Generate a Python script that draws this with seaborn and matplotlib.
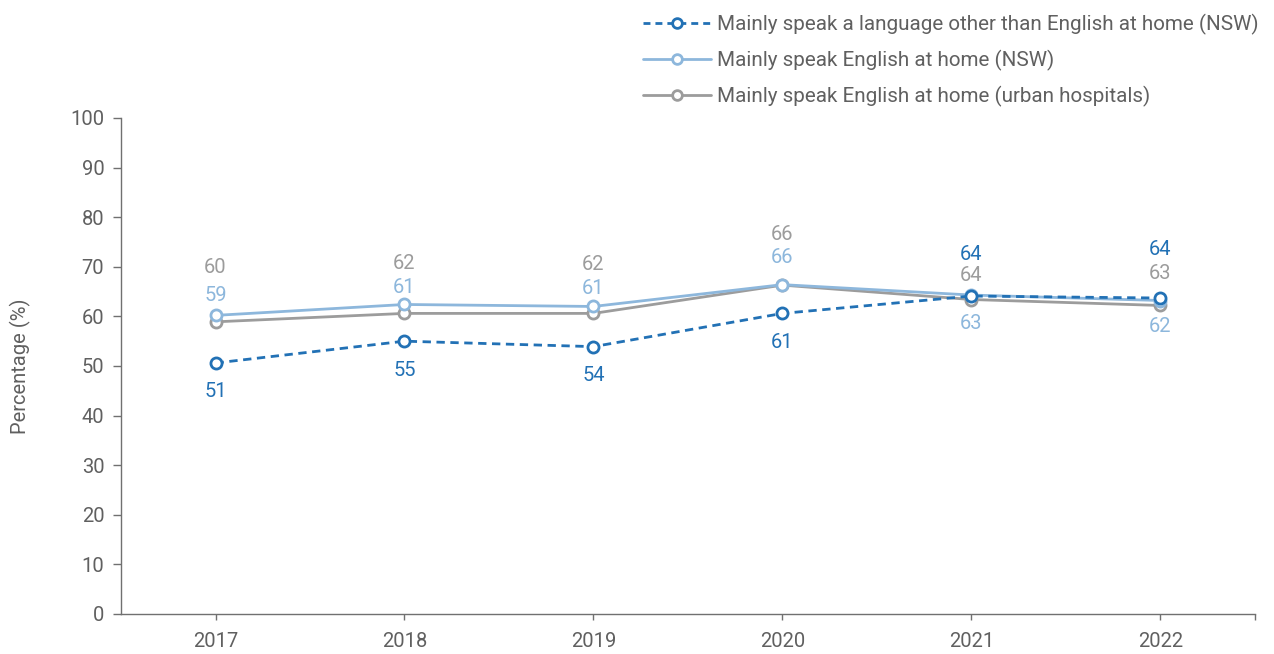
import matplotlib
matplotlib.use("Agg")
import matplotlib.pyplot as plt
import seaborn as sns
import pandas as pd
from matplotlib.lines import Line2D

sns.set_theme(style="white")
plt.rcParams["font.family"] = ["Roboto", "DejaVu Sans"]
plt.rcParams["font.weight"] = "normal"

years = ["2017", "2018", "2019", "2020", "2021", "2022"]
other_lang_nsw = [50.6, 55.0, 53.9, 60.6, 64.1, 63.7]
english_nsw = [60.2, 62.4, 62.0, 66.4, 64.3, 63.2]
english_urban = [58.9, 60.6, 60.6, 66.3, 63.4, 62.2]

series_names = [
    "Mainly speak a language other than English at home (NSW)",
    "Mainly speak English at home (NSW)",
    "Mainly speak English at home (urban hospitals)",
]

DARK = "#2271b5"
LIGHT = "#8db7dc"
GREY = "#9c9c9c"
TEXT = "#606060"
FS = 14.5

df = pd.DataFrame({
    "year": years * 3,
    "value": other_lang_nsw + english_nsw + english_urban,
    "series": [series_names[0]] * 6 + [series_names[1]] * 6 + [series_names[2]] * 6,
})

fig = plt.figure(figsize=(12.74, 6.54), dpi=100)
ax = fig.add_axes([0.095, 0.0612, 0.89, 0.7584])

palette = {series_names[0]: DARK, series_names[1]: LIGHT, series_names[2]: GREY}
draw_order = [series_names[2], series_names[1], series_names[0]]
styles = {series_names[0]: (0, (3, 2)), series_names[1]: "-", series_names[2]: "-"}
for name in draw_order:
    sub = df[df["series"] == name]
    sns.lineplot(data=sub, x="year", y="value", ax=ax, color=palette[name],
                 linewidth=2.0, linestyle=styles[name], marker="o", markersize=8,
                 markerfacecolor="white", markeredgecolor=palette[name],
                 markeredgewidth=2.0, legend=False, sort=False)

# value-label offsets in pixels (negative = above the point)
off_english_nsw = [-48, -41, -42, -50, -20, -27]
off_english_urban = [-26, -26, -25, -28, 24, 21]
off_other = [28, 29, 29, 29, -42, -49]

def put_labels(vals, offs, color):
    for i, (v, o) in enumerate(zip(vals, offs)):
        ax.annotate(f"{v:.0f}", (i, v), xytext=(0, -o * 0.72),
                    textcoords="offset points", ha="center", va="center",
                    fontsize=FS, color=color)

put_labels(english_nsw, off_english_nsw, GREY)
put_labels(english_urban, off_english_urban, LIGHT)
put_labels(other_lang_nsw, off_other, DARK)

ax.set_xlim(-0.5, 5.5)
ax.set_ylim(0, 100)
ax.set_yticks(range(0, 101, 10))
ax.set_xlabel("")
ax.set_ylabel("Percentage (%)", fontsize=FS, color=TEXT, labelpad=28)
ax.set_xticks(range(len(years)))
ax.set_xticklabels(years)
ax.set_xticks([5.5], minor=True)

for s in ["top", "right"]:
    ax.spines[s].set_visible(False)
for s in ["left", "bottom"]:
    ax.spines[s].set_color("#707070")
    ax.spines[s].set_linewidth(1.0)
ax.tick_params(axis="y", which="major", left=True, length=6, width=1, color="#707070",
               labelsize=FS, labelcolor=TEXT, pad=6)
ax.tick_params(axis="x", which="both", bottom=True, length=4, width=1, color="#707070",
               labelsize=FS, labelcolor=TEXT, pad=9)
ax.grid(False)

handles = [
    Line2D([0], [0], color=DARK, lw=2, ls=(0, (2.5, 1.8)), marker="o", markersize=7,
           markerfacecolor="white", markeredgecolor=DARK, markeredgewidth=2),
    Line2D([0], [0], color=LIGHT, lw=2, marker="o", markersize=7,
           markerfacecolor="white", markeredgecolor=LIGHT, markeredgewidth=2),
    Line2D([0], [0], color=GREY, lw=2, marker="o", markersize=7,
           markerfacecolor="white", markeredgecolor=GREY, markeredgewidth=2),
]
leg = fig.legend(handles, series_names, loc="upper left", bbox_to_anchor=(0.494, 1.0),
                 frameon=False, fontsize=14.9, handlelength=3.3, handletextpad=0.3,
                 labelspacing=0.72, borderaxespad=0.25)
for t in leg.get_texts():
    t.set_color(TEXT)

fig.savefig("out.png", dpi=100)
